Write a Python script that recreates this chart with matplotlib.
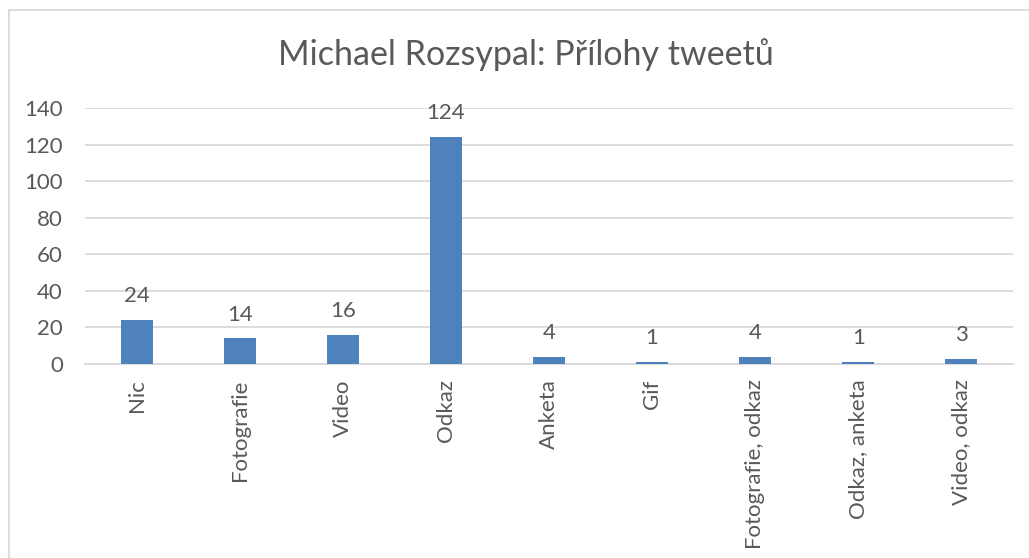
import matplotlib
matplotlib.use("Agg")
import matplotlib.pyplot as plt
from matplotlib.lines import Line2D

plt.rcParams["font.family"] = ["Lato", "DejaVu Sans"]

# Data
categories = ["Nic", "Fotografie", "Video", "Odkaz", "Anketa", "Gif",
              "Fotografie, odkaz", "Odkaz, anketa", "Video, odkaz"]
counts = [24, 14, 16, 124, 4, 1, 4, 1, 3]
title = "Michael Rozsypal: Přílohy tweetů"

text_color = "#595959"
grid_color = "#D9D9D9"
bar_color = "#4F81BD"

W, H = 1029, 558
fig = plt.figure(figsize=(W / 100, H / 100), dpi=100)

# plot area in pixel terms
left, right, top, bottom = 85, 1013, 108, 364
ax = fig.add_axes([left / W, 1 - bottom / H, (right - left) / W, (bottom - top) / H])

x = range(len(categories))
bars = ax.bar(x, counts, width=0.31, color=bar_color, zorder=3)
ax.bar_label(bars, labels=[str(v) for v in counts], padding=10,
             fontsize=16, color=text_color)

ax.set_xlim(-0.5, len(categories) - 0.5)
ax.set_ylim(0, 140)
ax.set_yticks(range(0, 141, 20))
ax.set_xticks(list(x))
ax.set_xticklabels(categories, rotation=90, va="top", ha="center")
ax.tick_params(axis="both", length=0, labelsize=16, labelcolor=text_color)
ax.tick_params(axis="x", pad=11)
ax.tick_params(axis="y", pad=16)
ax.grid(axis="y", color=grid_color, linewidth=1.3, zorder=0)
for side in ["top", "right", "left"]:
    ax.spines[side].set_visible(False)
ax.spines["bottom"].set_color(grid_color)
ax.spines["bottom"].set_linewidth(1.3)
ax.set_clip_on(False)

fig.text(526 / W, 1 - 55 / H, title, ha="center", va="center",
         fontsize=24.5, color=text_color)

# chart frame (only top and left edges are inside the crop)
fig.add_artist(Line2D([8.5 / W, 8.5 / W], [0, 1 - 10 / H], color=grid_color, linewidth=1.3))
fig.add_artist(Line2D([8.5 / W, 1], [1 - 10 / H, 1 - 10 / H], color=grid_color, linewidth=1.3))

fig.savefig("out.png", dpi=100)
